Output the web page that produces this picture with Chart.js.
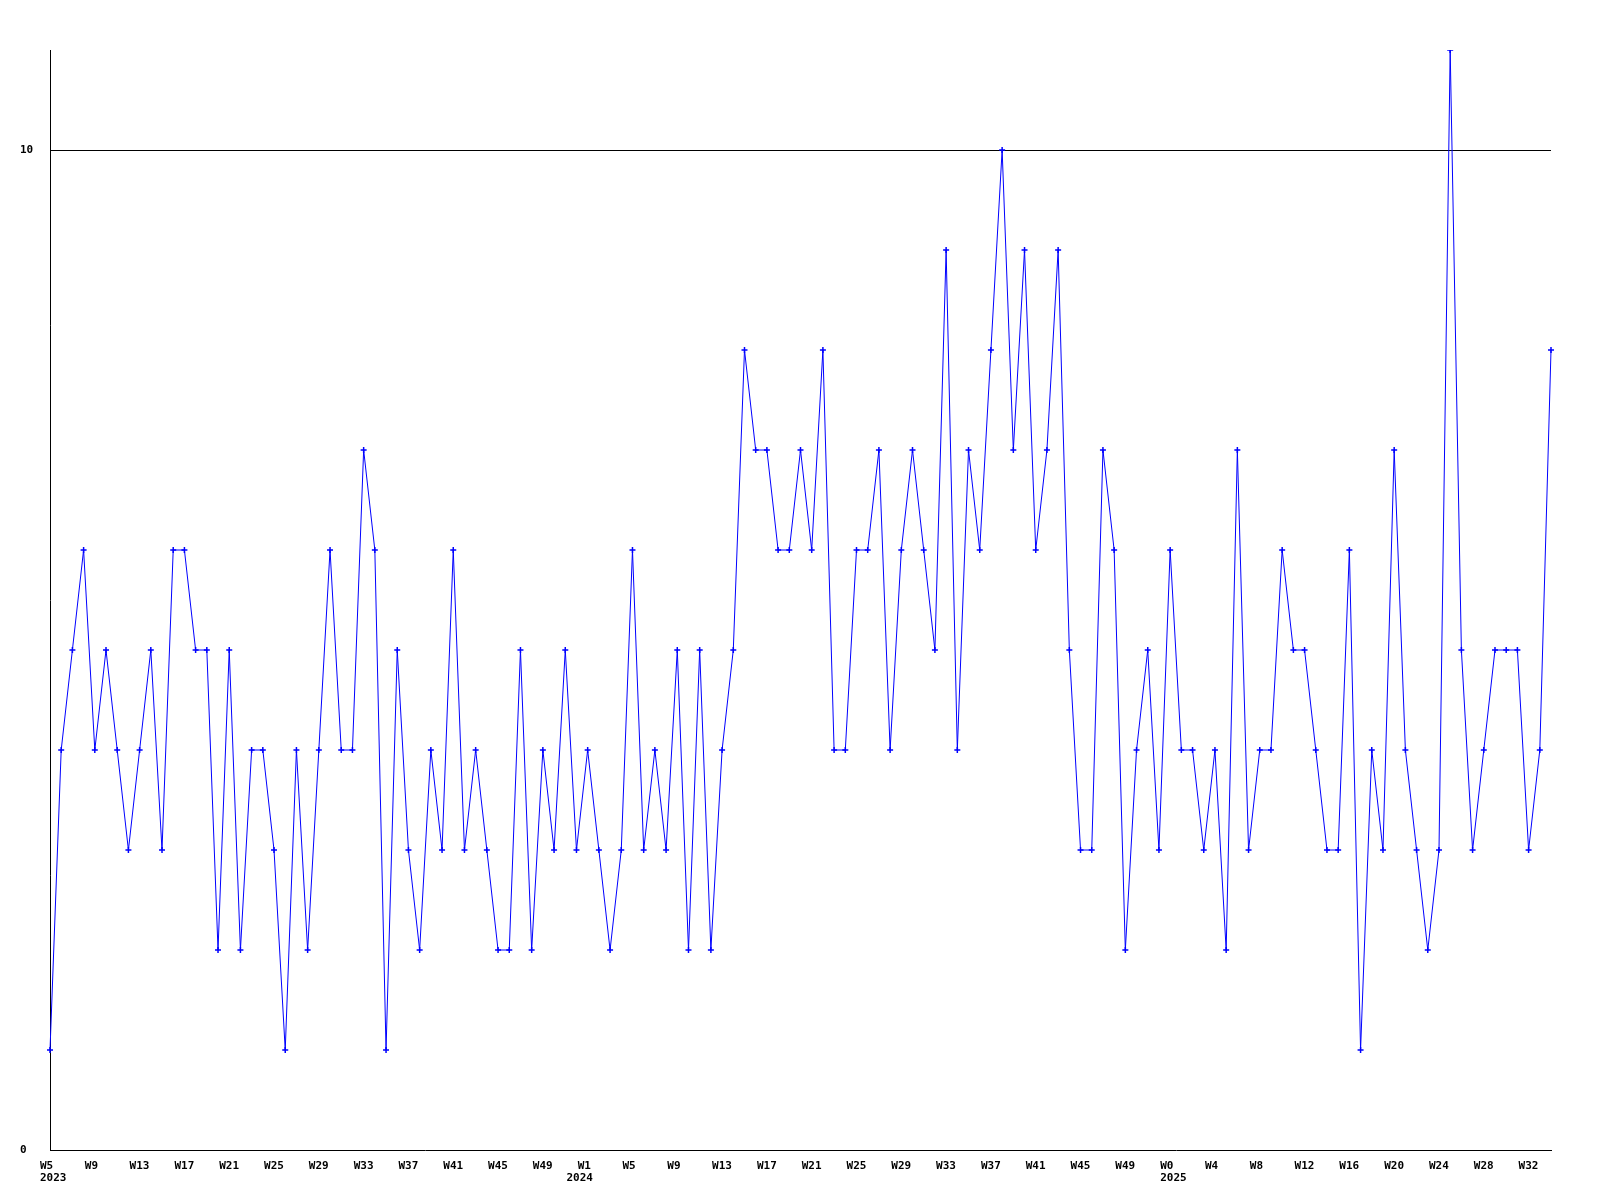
<!DOCTYPE html>
<html>
<head>
<meta charset="utf-8">
<script src="https://cdn.jsdelivr.net/npm/chart.js@4/dist/chart.umd.min.js"></script>
<style>
html, body { margin: 0; padding: 0; background: #ffffff; }
canvas { display: block; }
</style>
</head>
<body>
<canvas id="c" width="1600" height="1200"></canvas>
<script>
// Week categories (year, week) for each data point
const years2023Weeks = [5,6,7,8,9,10,11,12,13,14,15,16,17,18,19,20,21,22,23,24,25,26,27,28,29,30,31,32,33,34,35,36,37,38,39,40,41,42,43,44,45,46,47,48,49,50,51,52];
const years2024Weeks = [1,2,3,4,5,6,7,8,9,10,11,12,13,14,15,16,17,18,19,20,21,22,23,24,25,26,27,28,29,30,31,32,33,34,35,36,37,38,39,40,41,42,43,44,45,46,47,48,49,50,51,52];
const years2025Weeks = [0,1,2,3,4,5,6,7,8,9,10,11,12,13,14,15,16,17,18,19,20,21,22,23,24,25,26,27,28,29,30,31,32,33,34];

// Weekly values
const values = [
  1,4,5,6,4,5,4,3,4,5,
  3,6,6,5,5,2,5,2,4,4,
  3,1,4,2,4,6,4,4,7,6,
  1,5,3,2,4,3,6,3,4,3,
  2,2,5,2,4,3,5,3,4,3,
  2,3,6,3,4,3,5,2,5,2,
  4,5,8,7,7,6,6,7,6,8,
  4,4,6,6,7,4,6,7,6,5,
  9,4,7,6,8,10,7,9,6,7,
  9,5,3,3,7,6,2,4,5,3,
  6,4,4,3,4,2,7,3,4,4,
  6,5,5,4,3,3,6,1,4,3,
  7,4,3,2,3,11,5,3,4,5,
  5,5,3,4,8
];

// Tick labels: week label every 4th point; year labels at given indexes
const yearLabels = { 0: '2023', 47: '2024', 100: '2025' };
const yTicks = [0, 10];
const yMax = 11;

const categories = [];
years2023Weeks.forEach(w => categories.push('W' + w));
years2024Weeks.forEach(w => categories.push('W' + w));
years2025Weeks.forEach(w => categories.push('W' + w));

const FONT = { family: 'DejaVu Sans Mono', size: 11, weight: 'bold', lineHeight: 1.1 };

new Chart(document.getElementById('c'), {
  type: 'line',
  data: {
    labels: categories,
    datasets: [{
      data: values,
      borderColor: '#0000ff',
      backgroundColor: '#0000ff',
      borderWidth: 1,
      tension: 0,
      fill: false,
      pointStyle: 'cross',
      pointRadius: 3,
      pointBorderWidth: 1.5,
      pointBorderColor: '#0000ff',
      pointHoverRadius: 3
    }]
  },
  options: {
    responsive: false,
    devicePixelRatio: 1,
    animation: false,
    events: [],
    layout: { padding: { left: 20, top: 50, right: 49, bottom: 0 } },
    plugins: { legend: { display: false }, tooltip: { enabled: false }, title: { display: false } },
    scales: {
      x: {
        type: 'category',
        offset: false,
        grid: { display: true, color: 'transparent', drawTicks: false },
        border: { display: true, color: '#000000', width: 1 },
        ticks: {
          autoSkip: false,
          maxRotation: 0,
          minRotation: 0,
          align: 'start',
          labelOffset: -10,
          padding: 10,
          color: '#000000',
          font: FONT,
          callback: function(value, index) {
            const wk = (index % 4 === 0) ? categories[index] : '';
            const yr = yearLabels[index];
            if (yr) return [wk, yr];
            return wk;
          }
        },
        afterFit: function(scale) { scale.height = 50; }
      },
      y: {
        min: 0,
        max: yMax,
        grid: {
          display: true,
          drawTicks: false,
          color: ctx => (ctx.tick && ctx.tick.value === 10) ? '#000000' : 'transparent',
          lineWidth: 1
        },
        border: { display: true, color: '#000000', width: 1 },
        afterBuildTicks: function(scale) { scale.ticks = yTicks.map(v => ({ value: v })); },
        ticks: {
          crossAlign: 'far',
          color: '#000000',
          font: FONT,
          callback: v => String(v)
        },
        afterFit: function(scale) { scale.width = 30; }
      }
    }
  }
});
</script>
</body>
</html>
